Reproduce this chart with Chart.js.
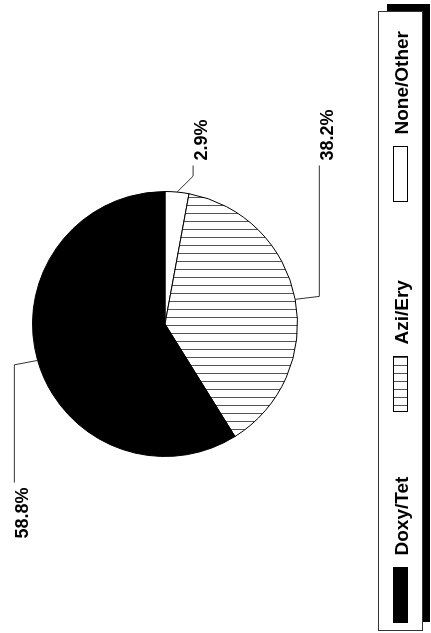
<!DOCTYPE html>
<html>
<head>
<meta charset="utf-8">
<script src="https://cdn.jsdelivr.net/npm/chart.js@4/dist/chart.umd.min.js"></script>
<style>
  html, body { margin: 0; padding: 0; background: #fff; overflow: hidden; }
  /* the whole chart is printed turned a quarter turn to the left */
  #wrap {
    position: absolute; left: 0; top: 0;
    width: 633px; height: 431px;
    transform-origin: 0 0;
    transform: translateY(633px) rotate(-90deg);
  }
</style>
</head>
<body>
<div id="wrap"><canvas id="pieChart" width="633" height="431"></canvas></div>
<script>
// slices, clockwise from the start angle
const categories = ["None/Other", "Azi/Ery", "Doxy/Tet"];
const percents = [2.9, 38.2, 58.8];
// legend reads left to right in the other order
const legendOrder = ["Doxy/Tet", "Azi/Ery", "None/Other"];

const FONT = 'bold 18px "Liberation Sans", Arial, sans-serif';
const LEGEND_FONT = 'bold 19px "Liberation Sans", Arial, sans-serif';

function hatch() {
  const c = document.createElement("canvas");
  c.width = 8;
  c.height = 8;
  const g = c.getContext("2d");
  g.fillStyle = "#fff";
  g.fillRect(0, 0, 8, 8);
  g.strokeStyle = "#555";
  g.lineWidth = 1;
  g.beginPath();
  g.moveTo(3.5, 0);
  g.lineTo(3.5, 8);
  g.stroke();
  return g.createPattern(c, "repeat");
}

const ctx = document.getElementById("pieChart").getContext("2d");
const stripes = hatch();
const fills = { "None/Other": "#fff", "Azi/Ery": stripes, "Doxy/Tet": "#000" };

const leaders = {
  id: "leaders",
  afterDatasetsDraw(chart) {
    const c = chart.ctx;
    const arcs = chart.getDatasetMeta(0).data;
    c.save();
    c.strokeStyle = "#333";
    c.lineWidth = 1;
    c.font = FONT;
    c.fillStyle = "#000";
    c.textBaseline = "alphabetic";
    arcs.forEach((arc, i) => {
      const p = arc.getProps(["x", "y", "startAngle", "endAngle", "outerRadius"], true);
      const mid = (p.startAngle + p.endAngle) / 2;
      const dx = Math.cos(mid);
      const dy = Math.sin(mid);
      const ex = p.x + dx * p.outerRadius;
      const ey = p.y + dy * p.outerRadius;
      const kx = ex + dx * 16;
      const ky = ey + Math.sign(dy) * (26 - 10 * Math.abs(dx));
      const right = dx >= 0;
      const endX = p.x + (right ? 1 : -1) * (p.outerRadius + 26);
      c.beginPath();
      c.moveTo(ex, ey);
      c.lineTo(kx, ky);
      c.lineTo(endX, ky);
      c.stroke();
      c.textAlign = right ? "left" : "right";
      c.fillText(percents[i].toFixed(1) + "%", endX + (right ? 5 : -5), ky + 14);
    });
    c.restore();
  },
};

const legendBox = {
  id: "legendBox",
  afterDraw(chart) {
    const c = chart.ctx;
    c.save();
    // drop shadow, then the frame
    c.fillStyle = "#000";
    c.fillRect(11, 387, 618, 43);
    c.fillStyle = "#fff";
    c.fillRect(2, 378, 619, 44);
    c.strokeStyle = "#333";
    c.lineWidth = 1;
    c.strokeRect(2.5, 378.5, 619, 44);
    c.font = LEGEND_FONT;
    c.textAlign = "left";
    c.textBaseline = "alphabetic";
    legendOrder.forEach((name, i) => {
      const x = Math.round(10 + i * 210.5) + 0.5;
      c.fillStyle = fills[name];
      c.fillRect(x, 393.5, 55, 14);
      c.strokeStyle = "#000";
      c.strokeRect(x, 393.5, 55, 14);
      c.fillStyle = "#000";
      c.fillText(name, x + 67, 407.5);
    });
    c.restore();
  },
};

const pieChart = new Chart(ctx, {
  type: "pie",
  data: {
    labels: categories,
    datasets: [
      {
        data: percents,
        backgroundColor: categories.map((n) => fills[n]),
        borderColor: "#000",
        borderWidth: 1,
      },
    ],
  },
  options: {
    responsive: false,
    animation: false,
    rotation: 90,
    layout: {
      padding: { left: 176, right: 191, top: 32, bottom: 133 },
    },
    plugins: {
      legend: { display: false },
      tooltip: { enabled: false },
    },
  },
  plugins: [leaders, legendBox],
});
</script>
</body>
</html>
